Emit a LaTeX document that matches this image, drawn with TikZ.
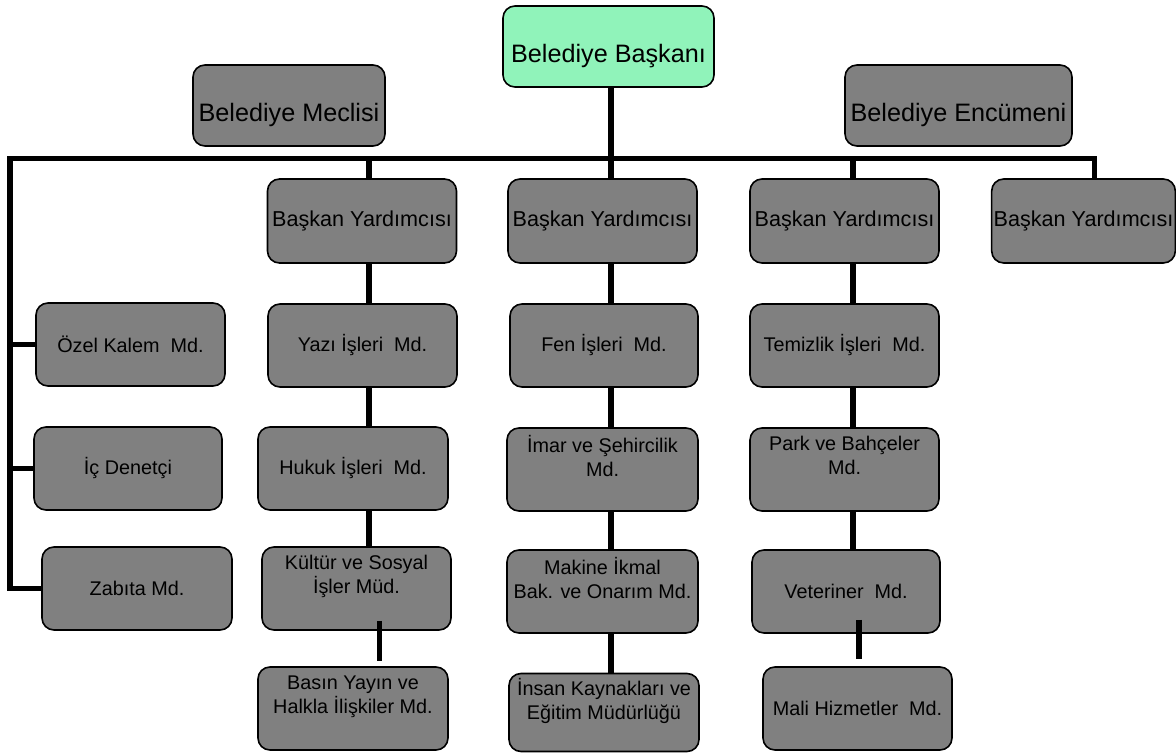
\documentclass[tikz,border=0pt]{standalone}
\usepackage{fontspec}
\setmainfont{Liberation Sans}
\usepackage{xcolor}
\usetikzlibrary{calc}

\definecolor{boxgray}{RGB}{128,128,128}
\definecolor{chiefgreen}{RGB}{144,243,186}

\begin{document}
\begin{tikzpicture}[x=0.5pt,y=-0.5pt,
    box/.style={draw=black, line width=0.8pt, fill=boxgray, rounded corners=6pt,
        minimum width=94.5pt, minimum height=41.5pt, inner sep=1pt, align=center,
        font=\fontsize{9.9pt}{12pt}\selectfont},
    twoline/.style={text depth=14pt},
    deputy/.style={box, minimum height=42pt, font=\fontsize{10.8pt}{13pt}\selectfont},
    bigbox/.style={box, minimum height=40.5pt, text height=19pt, text depth=3pt,
        font=\fontsize{12.6pt}{15pt}\selectfont},
    link/.style={line width=2.6pt, line join=miter}]
        \useasboundingbox (0,0) rectangle (1176,753);

        % top row
        \node[bigbox, fill=chiefgreen, minimum width=105.5pt] (baskan) at (608.5,46.5) {Belediye Başkanı};
        \node[bigbox, minimum width=96pt] (meclis) at (289,105.5) {Belediye Meclisi};
        \node[bigbox, minimum width=113.5pt] (encumen) at (958.5,105.5) {Belediye Encümeni};

        % deputies
        \node[deputy] (yard1) at (362,221) {Başkan Yardımcısı};
        \node[deputy] (yard2) at (602.5,221) {Başkan Yardımcısı};
        \node[deputy] (yard3) at (844.5,221) {Başkan Yardımcısı};
        \node[deputy, minimum width=91.5pt] (yard4) at (1083.5,221) {Başkan Yardımcısı};

        % left column
        \node[box] (ozel) at (130.5,344.5) {Özel Kalem~~Md.};
        \node[box, minimum width=94pt] (icdenetci) at (128,468.5) {İç Denetçi};
        \node[box, minimum width=95pt] (zabita) at (137,588.5) {Zabıta Md.};

        % second column
        \node[box] (yazi) at (362.5,345.5) {Yazı İşleri~~Md.};
        \node[box, minimum width=95pt] (hukuk) at (353,468.5) {Hukuk İşleri~~Md.};
        \node[box, twoline] (kultur) at (356.5,588.5) {Kültür ve Sosyal\\İşler Müd.};
        \node[box, twoline, minimum width=95pt] (basin) at (353,708.5) {Basın Yayın ve\\Halkla İlişkiler Md.};

        % third column
        \node[box, minimum width=94pt] (fen) at (604,345.5) {Fen İşleri~~Md.};
        \node[box, twoline, minimum width=95.5pt] (imar) at (602.5,469.5) {İmar ve Şehircilik\\Md.};
        \node[box, twoline, minimum width=95.5pt] (makine) at (602.5,591.5) {Makine İkmal\\Bak. ve Onarım Md.};
        \node[box, twoline, minimum width=95pt, minimum height=39pt] (insan) at (604,712.5) {İnsan Kaynakları ve\\Eğitim Müdürlüğü};

        % fourth column
        \node[box] (temizlik) at (844.5,345.5) {Temizlik İşleri~~Md.};
        \node[box, twoline] (park) at (844.5,469.5) {Park ve Bahçeler\\Md.};
        \node[box, minimum width=94pt] (veteriner) at (846,591.5) {Veteriner~~Md.};
        \node[box] (mali) at (857.5,708.5) {Mali Hizmetler~~Md.};

        \coordinate (busL) at (10,158.5);
        \coordinate (busR) at (1094.5,158.5);
        \coordinate (c2) at (369,158.5);
        \coordinate (c3) at (611,158.5);
        \coordinate (c4) at (853,158.5);
        \coordinate (kb) at (379.5,0);
        \coordinate (vm) at (859,0);

        % main bus
        \draw[link] (zabita.west) -| (busL) -- (busR) -- (busR |- yard4.north);
        \draw[link] (ozel.west) -- (ozel.west -| busL);
        \draw[link] (icdenetci.west) -- (icdenetci.west -| busL);
        \draw[link] (baskan.south -| c3) -- (yard2.north -| c3);
        \draw[link] (c2) -- (yard1.north -| c2);
        \draw[link] (c4) -- (yard3.north -| c4);

        % second column links
        \draw[link] (yard1.south -| c2) -- (yazi.north -| c2);
        \draw[link] (yazi.south -| c2) -- (hukuk.north -| c2);
        \draw[link] (hukuk.south -| c2) -- (kultur.north -| c2);
        \draw[link] ($(kultur.south -| kb)+(0,-10)$) -- ($(basin.north -| kb)+(0,-5)$);

        % third column links
        \draw[link] (yard2.south -| c3) -- (fen.north -| c3);
        \draw[link] (fen.south -| c3) -- (imar.north -| c3);
        \draw[link] (imar.south -| c3) -- (makine.north -| c3);
        \draw[link] (makine.south -| c3) -- (insan.north -| c3);

        % fourth column links
        \draw[link] (yard3.south -| c4) -- (temizlik.north -| c4);
        \draw[link] (temizlik.south -| c4) -- (park.north -| c4);
        \draw[link] (park.south -| c4) -- (veteriner.north -| c4);
        \draw[link] ($(veteriner.south -| vm)+(0,-14)$) -- ($(mali.north -| vm)+(0,-7)$);
\end{tikzpicture}
\end{document}
